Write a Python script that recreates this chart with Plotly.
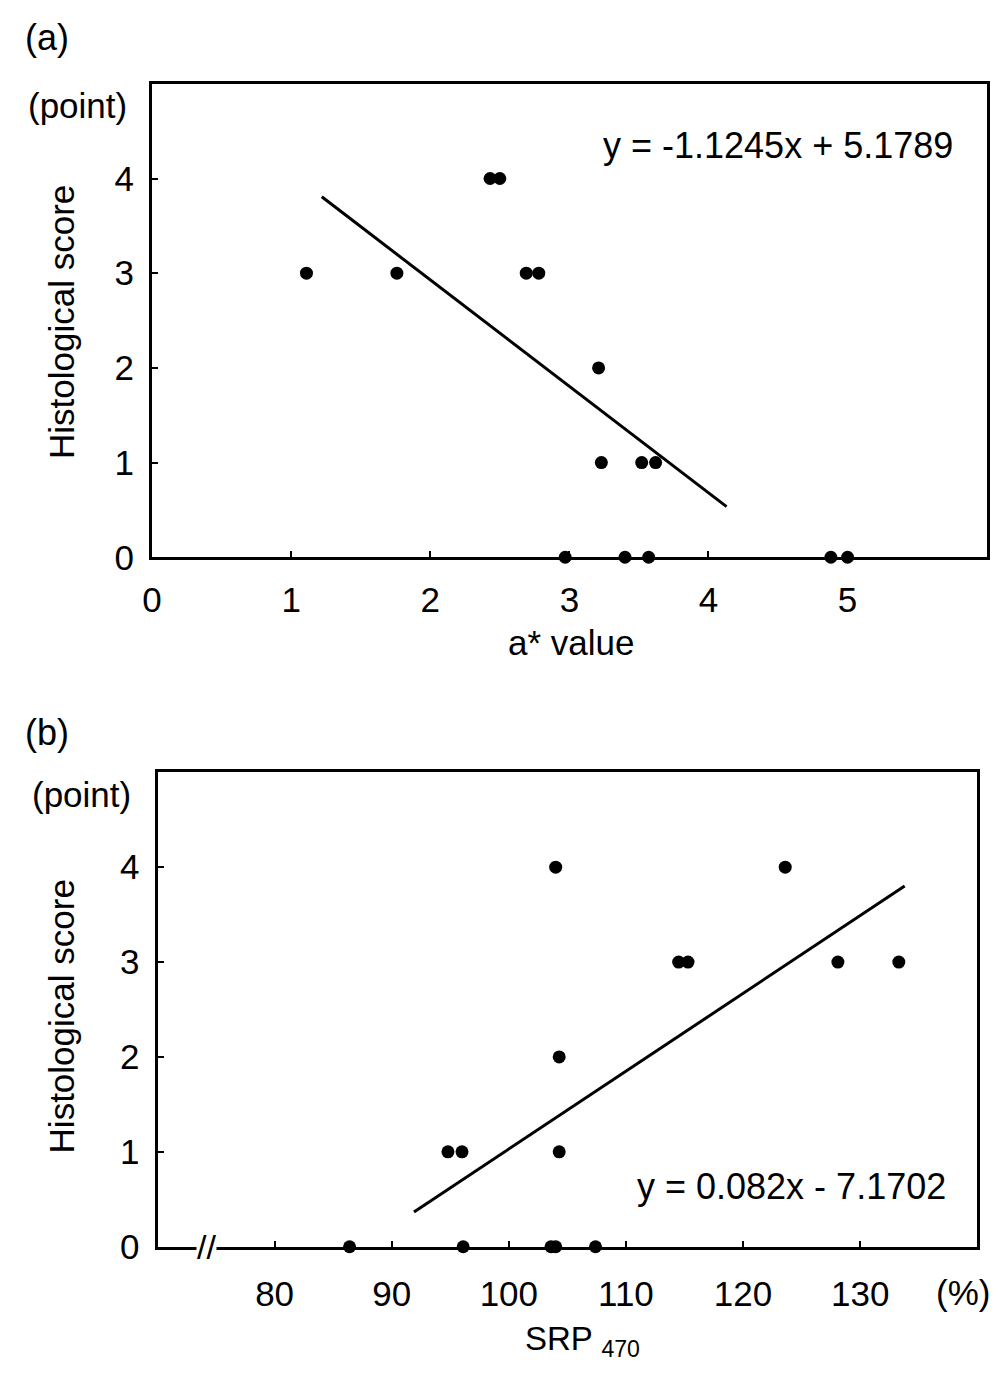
import plotly.graph_objects as go

# ---------------- data ----------------
# Panel (a): a* value vs histological score
a_x = [1.11, 1.76, 2.69, 2.78, 2.43, 2.50, 3.21, 3.23, 3.52, 3.62, 2.97, 3.40, 3.57, 4.88, 5.00]
a_y = [3, 3, 3, 3, 4, 4, 2, 1, 1, 1, 0, 0, 0, 0, 0]
a_slope, a_intercept = -1.1245, 5.1789
a_fit_x = [1.22, 4.13]
a_xticks = [0, 1, 2, 3, 4, 5]
a_yticks = [0, 1, 2, 3, 4]

# Panel (b): SRP470 vs histological score
b_x = [86.4, 96.1, 103.6, 104.0, 107.4, 94.8, 96.0, 104.3, 104.3, 114.5, 115.3, 128.1, 133.3, 104.0, 123.6]
b_y = [0, 0, 0, 0, 0, 1, 1, 1, 2, 3, 3, 3, 3, 4, 4]
b_slope, b_intercept = 0.082, -7.1702
b_fit_x = [91.9, 133.8]
b_xticks = [80, 90, 100, 110, 120, 130]
b_yticks = [0, 1, 2, 3, 4]

W, H = 1004, 1390
FONT = "Liberation Sans, Arial, sans-serif"
FS = 35

def px(x):
    return x / W

def py(y):
    return 1 - y / H

fig = go.Figure()

fig.add_trace(go.Scatter(x=a_x, y=a_y, mode="markers", xaxis="x", yaxis="y",
                         marker=dict(color="black", size=13), cliponaxis=False, showlegend=False))
fig.add_trace(go.Scatter(x=a_fit_x, y=[a_slope * v + a_intercept for v in a_fit_x], mode="lines",
                         xaxis="x", yaxis="y", line=dict(color="black", width=3), showlegend=False))
fig.add_trace(go.Scatter(x=b_x, y=b_y, mode="markers", xaxis="x2", yaxis="y2",
                         marker=dict(color="black", size=13), cliponaxis=False, showlegend=False))
fig.add_trace(go.Scatter(x=b_fit_x, y=[b_slope * v + b_intercept for v in b_fit_x], mode="lines",
                         xaxis="x2", yaxis="y2", line=dict(color="black", width=3), showlegend=False))

axis_common = dict(showline=True, linecolor="black", linewidth=3, mirror=True,
                   ticks="inside", ticklen=6, tickwidth=2, tickcolor="black",
                   showgrid=False, zeroline=False, layer="below traces",
                   tickfont=dict(family=FONT, size=FS, color="black"))

fig.update_layout(
    width=W, height=H,
    margin=dict(l=0, r=0, t=0, b=0),
    paper_bgcolor="white", plot_bgcolor="white",
    font=dict(family=FONT, size=FS, color="black"),
    hovermode=False,
    xaxis=dict(domain=[px(143.5), px(986.5)], range=[0, 6], tickvals=a_xticks,
               anchor="y", ticklabelstandoff=10, **axis_common),
    yaxis=dict(domain=[py(565), py(85)], range=[0, 5], tickvals=a_yticks,
               anchor="x", ticklabelstandoff=8, **axis_common),
    xaxis2=dict(domain=[px(149), px(977)], range=[70, 140], tickvals=b_xticks,
                anchor="y2", ticklabelstandoff=14, **axis_common),
    yaxis2=dict(domain=[py(1264), py(783)], range=[0, 5], tickvals=b_yticks,
                anchor="x2", ticklabelstandoff=8, **axis_common),
)

def ann(text, x, y, xanchor="center", size=FS, textangle=0, **kw):
    fig.add_annotation(text=text, x=px(x), y=py(y), xref="paper", yref="paper",
                       xanchor=xanchor, yanchor="middle", showarrow=False,
                       textangle=textangle, font=dict(family=FONT, size=size, color="black"), **kw)

# Panel (a) texts
ann("(a)", 13, 38, xanchor="left", size=36)
ann("(point)", 68, 107)
ann("Histological score", 52, 326, textangle=-90)
ann("y = -1.1245x + 5.1789", 597, 148, xanchor="left", size=36)
ann("a* value", 567, 651)

# Panel (b) texts
ann("(b)", 13, 743, xanchor="left", size=36)
ann("(point)", 72, 806)
ann("Histological score", 52, 1030, textangle=-90)
ann("y = 0.082x - 7.1702", 631, 1203, xanchor="left", size=36)
ann("SRP <sub>470</sub>", 578, 1360, size=33)
ann("(%)", 963, 1310)

# axis break mark on panel (b) x axis
fig.add_annotation(text="//", x=74.2, y=0, xref="x2", yref="y2", showarrow=False,
                   xanchor="center", yanchor="middle", bgcolor="white", borderpad=0,
                   font=dict(family=FONT, size=34, color="black"))

fig.write_html("out.html",
               config={"displayModeBar": False, "staticPlot": True},
               post_script="document.body.style.margin='0';document.body.style.overflow='hidden';"
                           "document.documentElement.style.overflow='hidden';")
